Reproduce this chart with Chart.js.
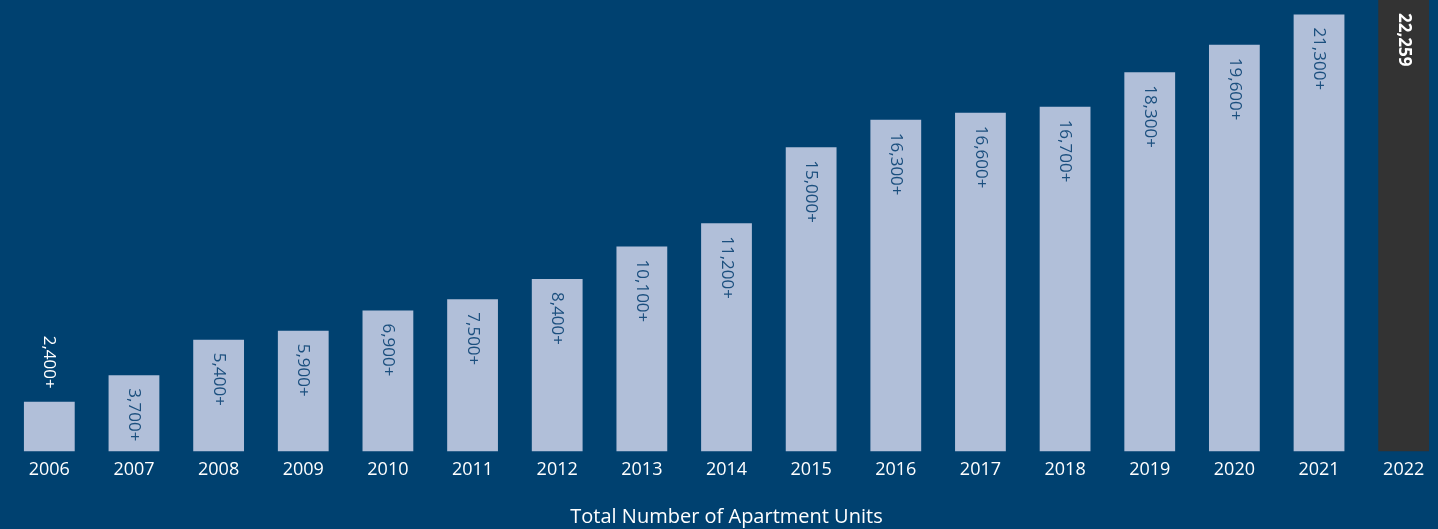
<!DOCTYPE html>
<html>
<head>
<meta charset="utf-8">
<script src="https://cdn.jsdelivr.net/npm/chart.js@4/dist/chart.umd.min.js"></script>
<style>
  html, body { margin: 0; padding: 0; background: #004170; overflow: hidden; }
  #wrap { position: relative; width: 1446px; height: 529px; }
</style>
</head>
<body>
<div id="wrap"><canvas id="chart"></canvas></div>
<script>
// years on the x axis
const years = ["2006", "2007", "2008", "2009", "2010", "2011", "2012", "2013", "2014",
  "2015", "2016", "2017", "2018", "2019", "2020", "2021", "2022"];
// bar heights
const units = [2450, 3750, 5500, 5950, 6950, 7500, 8500, 10100, 11250,
  15000, 16350, 16700, 17000, 18700, 20050, 21550, 22259];
// text written on each bar
const barLabels = ["2,400+", "3,700+", "5,400+", "5,900+", "6,900+", "7,500+", "8,400+", "10,100+", "11,200+",
  "15,000+", "16,300+", "16,600+", "16,700+", "18,300+", "19,600+", "21,300+", "22,259"];

const lastIdx = years.length - 1;

// rotated value labels, inside the bar when it fits, above it otherwise
const labelPlugin = {
  id: "barLabels",
  afterDatasetsDraw(chart) {
    const ctx = chart.ctx;
    const meta = chart.getDatasetMeta(0);
    meta.data.forEach((bar, i) => {
      const last = i === lastIdx;
      ctx.save();
      ctx.font = (last ? "bold " : "") + "17px 'Open Sans'";
      const w = ctx.measureText(barLabels[i]).width;
      const h = bar.base - bar.y;
      let start, color;
      if (h > w + 20) {
        start = bar.y + 13;
        color = last ? "#ffffff" : "#1b4f7e";
      } else {
        start = bar.y - 13 - w;
        color = "#ffffff";
      }
      ctx.translate(bar.x, start);
      ctx.rotate(Math.PI / 2);
      ctx.fillStyle = color;
      ctx.textAlign = "left";
      ctx.textBaseline = "middle";
      ctx.fillText(barLabels[i], 0, 0);
      ctx.restore();
    });
  }
};

new Chart(document.getElementById("chart"), {
  type: "bar",
  data: {
    labels: years,
    datasets: [{
      data: units,
      backgroundColor: years.map((y, i) => i === lastIdx ? "#333333" : "#b1bfd9"),
      barPercentage: 0.6,
      categoryPercentage: 1
    }]
  },
  options: {
    responsive: true,
    maintainAspectRatio: false,
    animation: false,
    layout: { padding: { left: 7, right: 0, top: 0, bottom: 0 } },
    plugins: {
      legend: { display: false },
      tooltip: { enabled: false }
    },
    scales: {
      x: {
        grid: { display: false },
        border: { display: false },
        ticks: {
          color: "#ffffff",
          font: { family: "'Open Sans'", size: 18 },
          padding: 0,
          maxRotation: 0
        },
        title: {
          display: true,
          text: "Total Number of Apartment Units",
          color: "#ffffff",
          font: { family: "'Open Sans'", size: 20 },
          padding: { top: 24, bottom: 0 }
        }
      },
      y: {
        display: false,
        min: 0,
        max: 22259
      }
    }
  },
  plugins: [labelPlugin]
});
</script>
</body>
</html>
